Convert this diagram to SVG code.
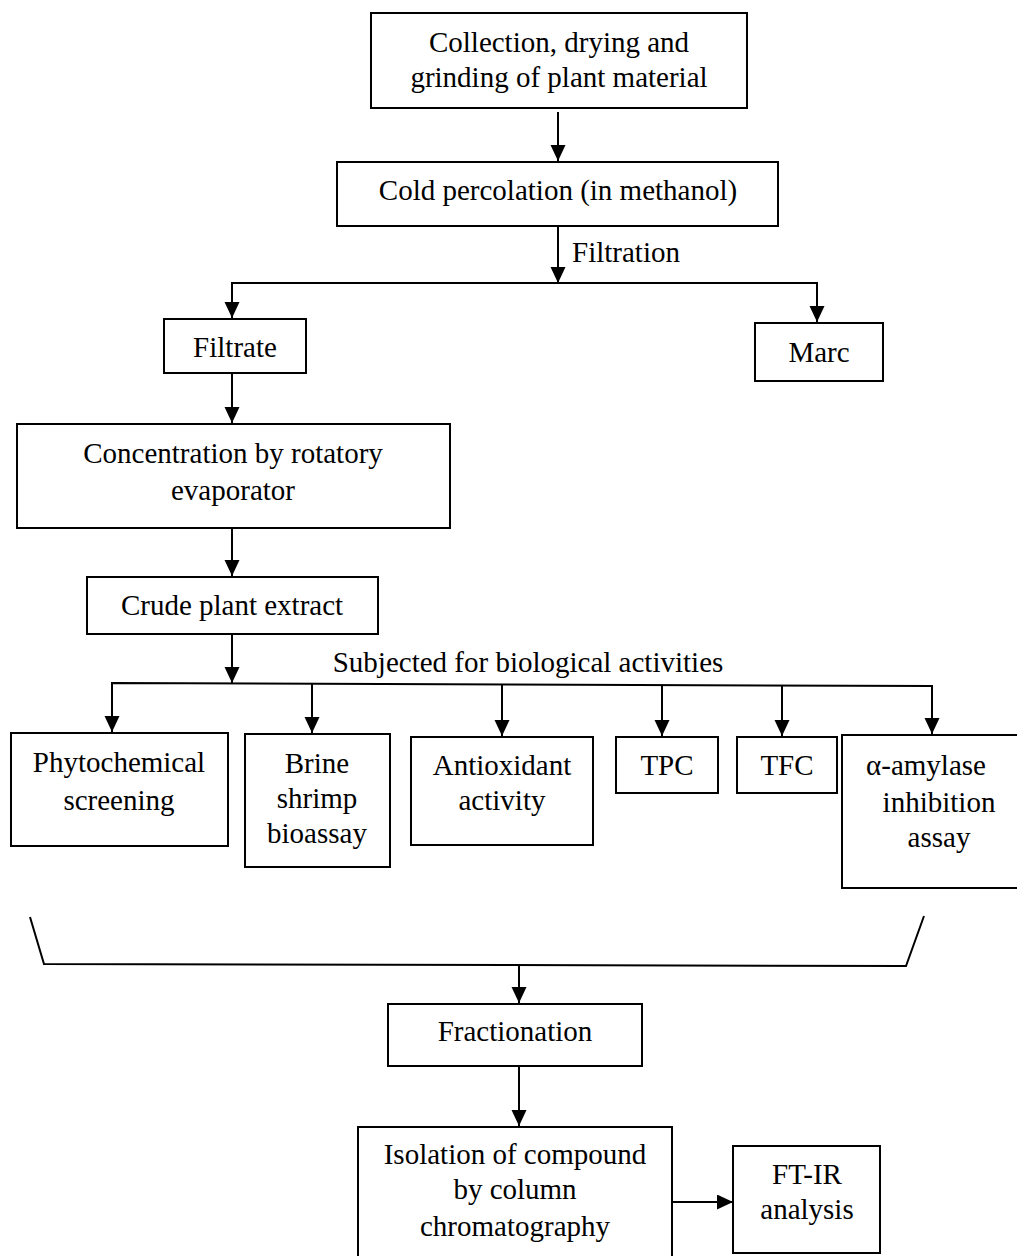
<svg xmlns="http://www.w3.org/2000/svg" width="1017" height="1256" viewBox="0 0 1017 1256">
<style>
.box{fill:#fff;stroke:#000;stroke-width:2}
.ln{fill:none;stroke:#000;stroke-width:2}
text{font-family:"Liberation Serif","Times New Roman",serif;font-size:29px;fill:#000;text-anchor:middle}
</style>
<defs>
<marker id="ah" markerUnits="userSpaceOnUse" markerWidth="17" markerHeight="16" refX="16" refY="7.5" orient="auto">
<path d="M0,0 L16,7.5 L0,15 z" fill="#000"/>
</marker>
</defs>
<rect width="1017" height="1256" fill="#fff"/>
<g id="connectors">
<line class="ln" x1="558" y1="112" x2="558" y2="161" marker-end="url(#ah)"/>
<line class="ln" x1="558" y1="226" x2="558" y2="283" marker-end="url(#ah)"/>
<polyline class="ln" points="232,318 232,283 817,283 817,322" marker-end="url(#ah)"/>
<line class="ln" x1="232" y1="283" x2="232" y2="318" marker-end="url(#ah)"/>
<line class="ln" x1="232" y1="373" x2="232" y2="423" marker-end="url(#ah)"/>
<line class="ln" x1="232" y1="528" x2="232" y2="576" marker-end="url(#ah)"/>
<line class="ln" x1="232" y1="634" x2="232" y2="683" marker-end="url(#ah)"/>
<polyline class="ln" points="112,732 112,683 932,686 932,734" marker-end="url(#ah)"/>
<line class="ln" x1="112" y1="683" x2="112" y2="732" marker-end="url(#ah)"/>
<line class="ln" x1="312" y1="684" x2="312" y2="733" marker-end="url(#ah)"/>
<line class="ln" x1="502" y1="684" x2="502" y2="736" marker-end="url(#ah)"/>
<line class="ln" x1="662" y1="685" x2="662" y2="736" marker-end="url(#ah)"/>
<line class="ln" x1="782" y1="685" x2="782" y2="736" marker-end="url(#ah)"/>
<polyline class="ln" points="30,917 44,964 906,966 924,916"/>
<line class="ln" x1="519" y1="965" x2="519" y2="1003" marker-end="url(#ah)"/>
<line class="ln" x1="519" y1="1066" x2="519" y2="1126" marker-end="url(#ah)"/>
<line class="ln" x1="672" y1="1202" x2="733" y2="1202" marker-end="url(#ah)"/>
<text x="626" y="262">Filtration</text>
<text x="528" y="672">Subjected for biological activities</text>
</g>
<g id="n-collection"><rect class="box" x="371" y="13" width="376" height="95"/><text x="559" y="52">Collection, drying and</text><text x="559" y="87">grinding of plant material</text></g>
<g id="n-percolation"><rect class="box" x="337" y="162" width="441" height="64"/><text x="558" y="200">Cold percolation (in methanol)</text></g>
<g id="n-filtrate"><rect class="box" x="164" y="319" width="142" height="54"/><text x="235" y="357">Filtrate</text></g>
<g id="n-marc"><rect class="box" x="755" y="323" width="128" height="58"/><text x="819" y="362">Marc</text></g>
<g id="n-concentration"><rect class="box" x="17" y="424" width="433" height="104"/><text x="233" y="463">Concentration by rotatory</text><text x="233" y="500">evaporator</text></g>
<g id="n-crude"><rect class="box" x="87" y="577" width="291" height="57"/><text x="232" y="615">Crude plant extract</text></g>
<g id="n-phyto"><rect class="box" x="11" y="733" width="217" height="113"/><text x="119" y="772">Phytochemical</text><text x="119" y="810">screening</text></g>
<g id="n-brine"><rect class="box" x="245" y="734" width="145" height="133"/><text x="317" y="773">Brine</text><text x="317" y="808">shrimp</text><text x="317" y="843">bioassay</text></g>
<g id="n-antiox"><rect class="box" x="411" y="737" width="182" height="108"/><text x="502" y="775">Antioxidant</text><text x="502" y="810">activity</text></g>
<g id="n-tpc"><rect class="box" x="616" y="737" width="102" height="56"/><text x="667" y="775">TPC</text></g>
<g id="n-tfc"><rect class="box" x="737" y="737" width="100" height="56"/><text x="787" y="775">TFC</text></g>
<g id="n-amylase"><rect class="box" x="842" y="735" width="194" height="153"/><text x="926" y="775">α-amylase</text><text x="939" y="812">inhibition</text><text x="939" y="847">assay</text></g>
<g id="n-fractionation"><rect class="box" x="388" y="1004" width="254" height="62"/><text x="515" y="1041">Fractionation</text></g>
<g id="n-isolation"><rect class="box" x="358" y="1127" width="314" height="140"/><text x="515" y="1164">Isolation of compound</text><text x="515" y="1199">by column</text><text x="515" y="1236">chromatography</text></g>
<g id="n-ftir"><rect class="box" x="733" y="1146" width="147" height="107"/><text x="807" y="1184">FT-IR</text><text x="807" y="1219">analysis</text></g>
</svg>
